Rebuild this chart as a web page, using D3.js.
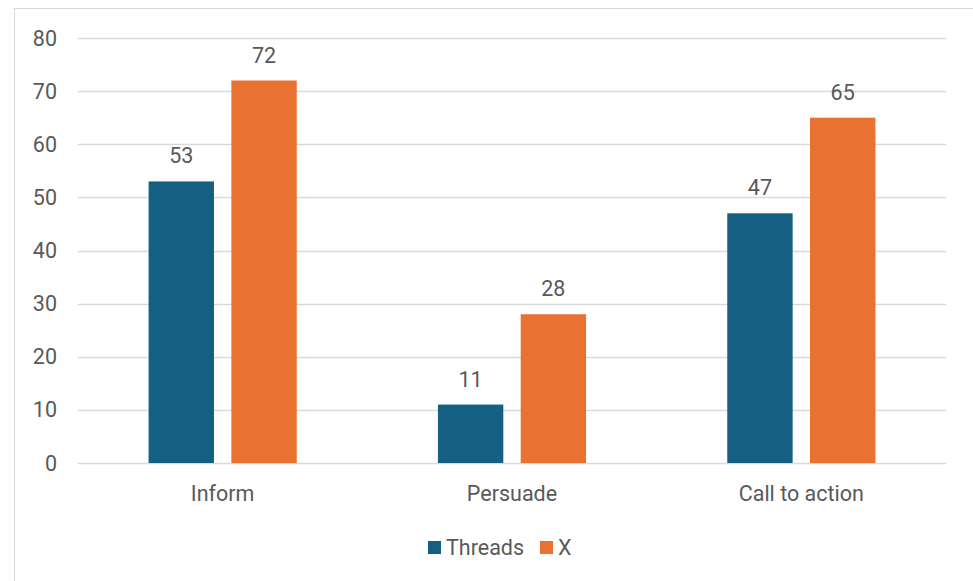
<!DOCTYPE html>
<html>
<head>
<meta charset="utf-8">
<script src="https://cdn.jsdelivr.net/npm/d3@7"></script>
<style>
  body { margin: 0; background: #fff; }
  text { font-family: Roboto, "Open Sans", sans-serif; fill: #595959; }
</style>
</head>
<body>
<div id="chart-area"></div>
<script>
const categories = ['Inform', 'Persuade', 'Call to action'];
const seriesNames = ['Threads', 'X'];
const threadsValues = [53, 11, 47];
const xValues = [72, 28, 65];
const yTicks = [0, 10, 20, 30, 40, 50, 60, 70, 80];

const svgWidth = 973, svgHeight = 581;
const colors = ['#156082', '#E97132'];
const fontSize = 21.5;

const svg = d3.select('#chart-area')
  .append('svg')
    .attr('width', svgWidth)
    .attr('height', svgHeight);

// chart frame (runs off the right and bottom)
svg.append('rect')
  .attr('x', 14.5).attr('y', 8.5)
  .attr('width', 1000).attr('height', 600)
  .attr('fill', 'none')
  .attr('stroke', '#d9d9d9')
  .attr('stroke-width', 1);

const plot = { left: 78, right: 946, top: 38, bottom: 463 };

const x0 = d3.scaleBand()
  .domain(categories)
  .range([plot.left, plot.right])
  .paddingInner(0.488)
  .paddingOuter(0.244);

const x1 = d3.scaleBand()
  .domain(seriesNames)
  .range([0, x0.bandwidth()])
  .paddingInner(0.21);

const y = d3.scaleLinear()
  .domain([0, 80])
  .range([plot.bottom, plot.top]);

// gridlines
svg.append('g')
  .selectAll('line')
  .data(yTicks)
  .join('line')
    .attr('x1', plot.left)
    .attr('x2', plot.right)
    .attr('y1', d => Math.round(y(d)) + 0.5)
    .attr('y2', d => Math.round(y(d)) + 0.5)
    .attr('stroke', '#d9d9d9')
    .attr('stroke-width', 1.3);

// y tick labels
svg.append('g')
  .selectAll('text')
  .data(yTicks)
  .join('text')
    .text(d => d)
    .attr('x', 57)
    .attr('y', d => y(d))
    .attr('dy', '0.35em')
    .attr('text-anchor', 'end')
    .attr('font-size', fontSize);

const data = categories.map((c, i) => ({
  category: c,
  values: [
    { series: 'Threads', value: threadsValues[i] },
    { series: 'X', value: xValues[i] }
  ]
}));

const groups = svg.append('g')
  .selectAll('g')
  .data(data)
  .join('g')
    .attr('transform', d => `translate(${x0(d.category)},0)`);

groups.selectAll('rect')
  .data(d => d.values)
  .join('rect')
    .attr('x', d => x1(d.series))
    .attr('y', d => y(d.value))
    .attr('width', x1.bandwidth())
    .attr('height', d => y(0) - y(d.value))
    .attr('fill', (d, i) => colors[i]);

groups.selectAll('text')
  .data(d => d.values)
  .join('text')
    .text(d => d.value)
    .attr('x', d => x1(d.series) + x1.bandwidth() / 2)
    .attr('y', d => y(d.value) - 18)
    .attr('text-anchor', 'middle')
    .attr('font-size', fontSize);

// category labels
svg.append('g')
  .selectAll('text')
  .data(categories)
  .join('text')
    .text(d => d)
    .attr('x', d => x0(d) + x0.bandwidth() / 2)
    .attr('y', 501)
    .attr('text-anchor', 'middle')
    .attr('font-size', fontSize);

// legend
const legend = svg.append('g');
const legendItems = [
  { name: 'Threads', x: 428 },
  { name: 'X', x: 540 }
];
legendItems.forEach((item, i) => {
  legend.append('rect')
    .attr('x', item.x)
    .attr('y', 541)
    .attr('width', 13)
    .attr('height', 13)
    .attr('fill', colors[i]);
  legend.append('text')
    .text(item.name)
    .attr('x', item.x + 18)
    .attr('y', 555)
    .attr('font-size', fontSize);
});
</script>
</body>
</html>
